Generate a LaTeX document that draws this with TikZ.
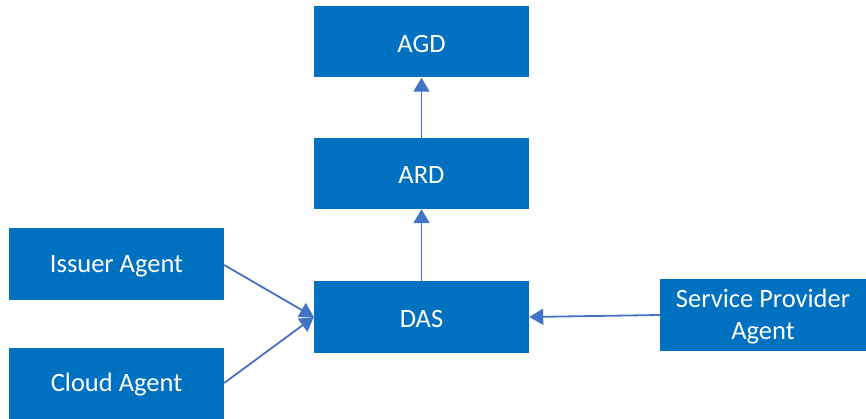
\documentclass[tikz,border=0pt]{standalone}
\usepackage{fontspec}
\setmainfont{Carlito}
\usetikzlibrary{arrows.meta}
\definecolor{boxblue}{HTML}{0070C0}
\definecolor{linkblue}{HTML}{4472C4}
\tikzset{
  block/.style={rectangle, fill=boxblue, draw=none, text=white,
    minimum width=215pt, minimum height=71pt, inner sep=2pt,
    align=center, font=\fontsize{26.5}{32}\selectfont},
  label/.style={text=white, align=center, font=\fontsize{26.5}{32}\selectfont},
  link/.style={draw=linkblue, line width=1.8pt,
    -{Triangle[width=16pt,length=14pt]}}
}
\begin{document}
\begin{tikzpicture}[x=1pt,y=-1pt]
\useasboundingbox (0,0) rectangle (866,419);
% boxes
\node[block] (agd) at (421.5,42) {};
\node[block] (ard) at (421.5,173.5) {};
\node[block, minimum height=72pt] (das) at (421.5,317) {};
\node[block] (issuer) at (116.5,264) {};
\node[block] (cloud) at (116.5,383) {};
\node[block, minimum width=206pt, minimum height=72pt] (sp) at (763,315) {};
% box captions, set slightly below the geometric centre
\node[label] (agdt) at ([yshift=-2pt]agd.center) {AGD};
\node[label] (ardt) at ([yshift=-2pt]ard.center) {ARD};
\node[label] (dast) at ([yshift=-2pt]das.center) {DAS};
\node[label] (issuert) at ([yshift=-2pt]issuer.center) {Issuer Agent};
\node[label] (cloudt) at ([yshift=-2pt]cloud.center) {Cloud Agent};
\node[label] (spt) at ([yshift=-2pt]sp.center) {Service Provider\\Agent};
% connectors
\draw[link] (das.north) -- (ard.south);
\draw[link] (ard.north) -- (agd.south);
\draw[link] ([yshift=-1pt]issuer.east) -- (das.west);
\draw[link] (cloud.east) -- (das.west);
\draw[link] (sp.west) -- (das.east);
\end{tikzpicture}
\end{document}
